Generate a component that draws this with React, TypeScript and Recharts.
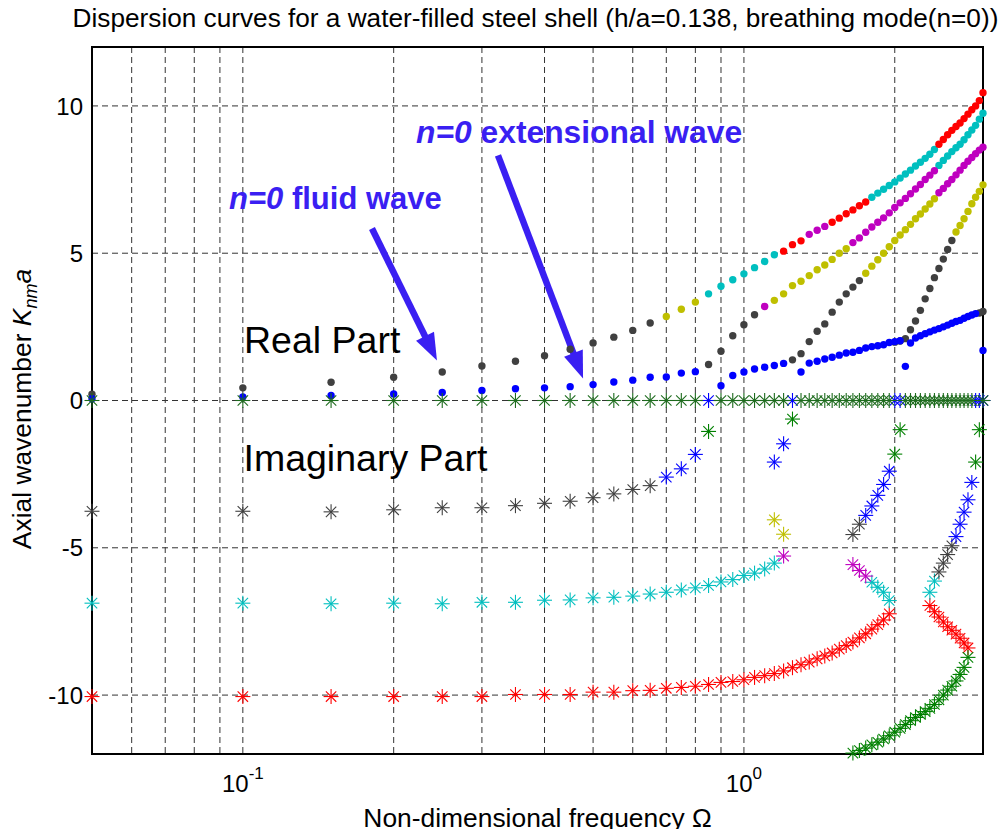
import React from "react";
import {
  CartesianGrid,
  ReferenceArea,
  ReferenceLine,
  Scatter,
  ScatterChart,
  XAxis,
  YAxis,
} from "recharts";

type Pt = [number, number];

// frequency grid (step 0.05)
const freqs = [
  0.05, 0.1, 0.15, 0.2, 0.25, 0.3, 0.35, 0.4, 0.45, 0.5, 0.55, 0.6, 0.65, 0.7, 0.75, 0.8, 0.85, 0.9, 0.95, 1,
  1.05, 1.1, 1.15, 1.2, 1.25, 1.3, 1.35, 1.4, 1.45, 1.5, 1.55, 1.6, 1.65, 1.7, 1.75, 1.8, 1.85, 1.9, 1.95, 2,
  2.05, 2.1, 2.15, 2.2, 2.25, 2.3, 2.35, 2.4, 2.45, 2.5, 2.55, 2.6, 2.65, 2.7, 2.75, 2.8, 2.85, 2.9, 2.95, 3,
];

const xTicks = [0.05, 0.06, 0.07, 0.08, 0.09, 0.1, 0.2, 0.3, 0.4, 0.5, 0.6, 0.7, 0.8, 0.9, 1, 2, 3];
const yTicks = [-10, -5, 0, 5, 10];

// real part (filled dots)
const grayDots: Pt[] = [
  [0.05, 0.21], [0.1, 0.43], [0.15, 0.62], [0.2, 0.79], [0.25, 0.97], [0.3, 1.17], [0.35, 1.33], [0.4, 1.52],
  [0.45, 1.74], [0.5, 1.95], [0.55, 2.15], [0.6, 2.38], [0.65, 2.63],
  [0.85, 1.22], [0.9, 1.67], [0.95, 2.2], [1, 2.57], [1.05, 2.91],
  [1.25, 1.38], [1.3, 1.59], [1.35, 2.0], [1.4, 2.35], [1.45, 2.6], [1.5, 3.0], [1.55, 3.34], [1.6, 3.62],
  [1.65, 3.85], [1.7, 4.07],
  [2, 1.98], [2.05, 2.02], [2.1, 2.1], [2.15, 2.4], [2.2, 2.7], [2.25, 3.06], [2.3, 3.45], [2.35, 3.8],
  [2.4, 4.17], [2.45, 4.48], [2.5, 4.8], [2.55, 5.13], [2.6, 5.43],
  [2.95, 2.97], [3, 3.02],
];
const yellowDots: Pt[] = [
  [0.7, 2.85], [0.75, 3.1], [0.8, 3.34],
  [1.15, 3.4], [1.2, 3.62], [1.25, 3.9], [1.3, 4.05], [1.35, 4.24], [1.4, 4.44], [1.45, 4.6], [1.5, 4.79],
  [1.55, 5.0], [1.6, 5.15],
  [1.75, 4.32], [1.8, 4.56], [1.85, 4.78], [1.9, 5.0], [1.95, 5.22], [2, 5.43], [2.05, 5.62], [2.1, 5.8],
  [2.15, 5.98], [2.2, 6.17], [2.25, 6.33], [2.3, 6.5], [2.35, 6.67], [2.4, 6.85],
  [2.65, 5.72], [2.7, 5.94], [2.75, 6.17], [2.8, 6.42], [2.85, 6.68], [2.9, 6.9], [2.95, 7.1], [3, 7.32],
];
const cyanDots: Pt[] = [
  [0.85, 3.62], [0.9, 3.88], [0.95, 4.1], [1, 4.3], [1.05, 4.51], [1.1, 4.72], [1.15, 4.95],
  [1.8, 6.9], [1.85, 7.04], [1.9, 7.17], [1.95, 7.3], [2, 7.42], [2.05, 7.55], [2.1, 7.69], [2.15, 7.82],
  [2.2, 7.96], [2.25, 8.09], [2.3, 8.22], [2.35, 8.36], [2.4, 8.52],
  [2.45, 7.98], [2.5, 8.15], [2.55, 8.3], [2.6, 8.45], [2.65, 8.58], [2.7, 8.7], [2.75, 8.85], [2.8, 9.02],
  [2.85, 9.18], [2.9, 9.34], [2.95, 9.55], [3, 9.75],
];
const magentaDots: Pt[] = [
  [1.1, 3.19],
  [1.35, 5.64], [1.4, 5.78], [1.45, 5.91],
  [1.65, 5.36], [1.7, 5.52], [1.75, 5.71], [1.8, 5.89], [1.85, 6.05], [1.9, 6.2], [1.95, 6.37], [2, 6.55],
  [2.05, 6.71], [2.1, 6.86], [2.15, 7.02], [2.2, 7.18], [2.25, 7.33], [2.3, 7.5], [2.35, 7.65], [2.4, 7.8],
  [2.45, 7.05], [2.5, 7.2], [2.55, 7.36], [2.6, 7.5], [2.65, 7.66], [2.7, 7.82], [2.75, 7.98], [2.8, 8.12],
  [2.85, 8.25], [2.9, 8.38], [2.95, 8.5], [3, 8.6],
];
const redDots: Pt[] = [
  [1.2, 5.07], [1.25, 5.29], [1.3, 5.42],
  [1.5, 6.05], [1.55, 6.19], [1.6, 6.34], [1.65, 6.47], [1.7, 6.61], [1.75, 6.74],
  [2.45, 8.7], [2.5, 8.86], [2.55, 9.02], [2.6, 9.17], [2.65, 9.3], [2.7, 9.42], [2.75, 9.57], [2.8, 9.72],
  [2.85, 9.87], [2.9, 10.0], [2.95, 10.18], [3, 10.45],
];
const blueDots: Pt[] = [
  [0.05, 0.06], [0.1, 0.12], [0.15, 0.17], [0.2, 0.22], [0.25, 0.27], [0.3, 0.34], [0.35, 0.4], [0.4, 0.43],
  [0.45, 0.47], [0.5, 0.54], [0.55, 0.63], [0.6, 0.69], [0.65, 0.79], [0.7, 0.8], [0.75, 0.93], [0.8, 0.98],
  [0.9, 0.5], [0.95, 0.85], [1, 0.97], [1.05, 1.07], [1.1, 1.13], [1.15, 1.19], [1.2, 1.26],
  [1.3, 0.97], [1.35, 1.27], [1.4, 1.33], [1.45, 1.41], [1.5, 1.47], [1.55, 1.54], [1.6, 1.61], [1.65, 1.64],
  [1.7, 1.7], [1.75, 1.78], [1.8, 1.83], [1.85, 1.86], [1.9, 1.89], [1.95, 1.97], [2, 2.0], [2.05, 2.03],
  [2.1, 1.16], [2.15, 1.95], [2.2, 2.12], [2.25, 2.2], [2.3, 2.27], [2.35, 2.33], [2.4, 2.39], [2.45, 2.44],
  [2.5, 2.5], [2.55, 2.56], [2.6, 2.62], [2.65, 2.68], [2.7, 2.72], [2.75, 2.79], [2.8, 2.85], [2.85, 2.9],
  [2.9, 2.95], [3, 1.7],
];

// imaginary part (asterisks)
const redStars: Pt[] = [
  [0.05, -10.05], [0.1, -10.05], [0.15, -10.05], [0.2, -10.05], [0.25, -10.05], [0.3, -10.05], [0.35, -9.98],
  [0.4, -9.98], [0.45, -9.98], [0.5, -9.9], [0.55, -9.9], [0.6, -9.85], [0.65, -9.84], [0.7, -9.77],
  [0.75, -9.74], [0.8, -9.7], [0.85, -9.64], [0.9, -9.57], [0.95, -9.54], [1, -9.48], [1.05, -9.4],
  [1.1, -9.34], [1.15, -9.27], [1.2, -9.18], [1.25, -9.07], [1.3, -8.97], [1.35, -8.88], [1.4, -8.77],
  [1.45, -8.67], [1.5, -8.57], [1.55, -8.44], [1.6, -8.32], [1.65, -8.2], [1.7, -8.06], [1.75, -7.92],
  [1.8, -7.76], [1.85, -7.61], [1.9, -7.45], [1.95, -7.24],
  [2.35, -6.96], [2.4, -7.17], [2.45, -7.35], [2.5, -7.52], [2.55, -7.68], [2.6, -7.8], [2.65, -7.93],
  [2.7, -8.07], [2.75, -8.23], [2.8, -8.4],
];
const cyanStars: Pt[] = [
  [0.05, -6.88], [0.1, -6.88], [0.15, -6.9], [0.2, -6.88], [0.25, -6.9], [0.3, -6.85], [0.35, -6.85],
  [0.4, -6.78], [0.45, -6.77], [0.5, -6.7], [0.55, -6.68], [0.6, -6.64], [0.65, -6.57], [0.7, -6.51],
  [0.75, -6.43], [0.8, -6.36], [0.85, -6.28], [0.9, -6.16], [0.95, -6.08], [1, -5.94], [1.05, -5.86],
  [1.1, -5.72], [1.15, -5.52],
  [1.8, -6.17], [1.85, -6.34], [1.9, -6.51], [1.95, -6.79],
  [2.35, -6.51], [2.4, -6.13],
];
const grayStars: Pt[] = [
  [0.05, -3.76], [0.1, -3.76], [0.15, -3.78], [0.2, -3.71], [0.25, -3.64], [0.3, -3.64], [0.35, -3.57],
  [0.4, -3.49], [0.45, -3.42], [0.5, -3.3], [0.55, -3.17], [0.6, -3.02], [0.65, -2.89],
  [1.65, -4.55], [1.7, -4.2],
  [2.45, -5.82], [2.5, -5.52], [2.55, -5.23], [2.6, -4.93],
];
const yellowStars: Pt[] = [[1.15, -4.05], [1.2, -4.54]];
const magentaStars: Pt[] = [[1.2, -5.28], [1.65, -5.57], [1.7, -5.77], [1.75, -5.96]];
const blueStars: Pt[] = [
  [0.7, -2.6], [0.75, -2.32], [0.8, -1.83],
  [1.15, -2.09], [1.2, -1.47],
  [1.75, -3.9], [1.8, -3.58], [1.85, -3.22], [1.9, -2.85], [1.95, -2.4],
  [2.65, -4.62], [2.7, -4.2], [2.75, -3.79], [2.8, -3.37], [2.85, -2.78],
];
const greenStars: Pt[] = [
  [0.85, -1.05], [1.25, -0.63], [2, -1.82], [2.05, -0.99], [2.9, -2.09], [2.95, -0.99],
  [1.65, -11.97], [1.7, -11.88], [1.75, -11.8], [1.8, -11.69], [1.85, -11.6], [1.9, -11.49], [1.95, -11.38],
  [2, -11.26], [2.05, -11.13], [2.1, -11.0], [2.15, -10.87], [2.2, -10.76], [2.25, -10.66], [2.3, -10.56],
  [2.35, -10.45], [2.4, -10.32], [2.45, -10.16], [2.5, -10.0], [2.55, -9.83], [2.6, -9.7], [2.65, -9.52],
  [2.7, -9.3], [2.75, -9.06], [2.8, -8.72],
];
// frequencies where the blue root sits on the zero line uncovered
const blueZero = [0.85, 1.25, 2, 2.05, 2.9, 2.95, 3];
const greenOff = [0.85, 1.25, 2, 2.05, 2.9, 2.95];

const FONT = "'Liberation Sans', Arial, Helvetica, sans-serif";
const NOTE = "#3a1ff2";
const C = {
  red: "#ff0000",
  cyan: "#00bfbf",
  magenta: "#bf00bf",
  yellow: "#bfbf00",
  gray: "#404040",
  blue: "#0000ff",
  green: "#008000",
};

const toXY = (pts: Pt[]) => pts.map(([x, y]) => ({ x, y }));
const zeroXY = (xs: number[]) => xs.map((x) => ({ x, y: 0 }));

const dotShape = (color: string) => (p: any) =>
  p.cx == null ? <g /> : <circle cx={p.cx} cy={p.cy} r={3.7} fill={color} />;

const starShape = (color: string) => (p: any) => {
  const { cx, cy } = p;
  if (cx == null || cy == null) return <g />;
  const a = 7.5;
  const d = 5.2;
  return (
    <g stroke={color} strokeWidth={1.1} fill="none">
      <line x1={cx - a} y1={cy} x2={cx + a} y2={cy} />
      <line x1={cx} y1={cy - a} x2={cx} y2={cy + a} />
      <line x1={cx - d} y1={cy - d} x2={cx + d} y2={cy + d} />
      <line x1={cx - d} y1={cy + d} x2={cx + d} y2={cy - d} />
    </g>
  );
};

const XTick = ({ x, payload }: any) => {
  const exp = payload.value === 0.1 ? "-1" : payload.value === 1 ? "0" : null;
  if (exp === null) return <g />;
  return (
    <text x={x} y={784} textAnchor="middle" fontFamily={FONT} fontSize={24} fill="#000">
      10
      <tspan dy={-13} fontSize={17}>
        {exp}
      </tspan>
    </text>
  );
};

const YTick = ({ y, payload }: any) => (
  <text x={75} y={y} dy={8.6} textAnchor="end" fontFamily={FONT} fontSize={24} fill="#000">
    {payload.value}
  </text>
);

const Arrow = (p: any) => {
  const { x1, y1, x2, y2 } = p;
  const len = Math.hypot(x2 - x1, y2 - y1);
  const ux = (x2 - x1) / len;
  const uy = (y2 - y1) / len;
  const head = 27;
  const hw = 10;
  const bx = x2 - ux * head;
  const by = y2 - uy * head;
  return (
    <g>
      <line x1={x1} y1={y1} x2={bx + ux * 2} y2={by + uy * 2} stroke={NOTE} strokeWidth={6.5} />
      <polygon
        points={`${x2},${y2} ${bx - uy * hw},${by + ux * hw} ${bx + uy * hw},${by - ux * hw}`}
        fill={NOTE}
      />
    </g>
  );
};

const dotSeries: [Pt[], string][] = [
  [grayDots, C.gray],
  [blueDots, C.blue],
  [yellowDots, C.yellow],
  [cyanDots, C.cyan],
  [magentaDots, C.magenta],
  [redDots, C.red],
];
const starSeries: [Pt[], string][] = [
  [redStars, C.red],
  [cyanStars, C.cyan],
  [grayStars, C.gray],
  [yellowStars, C.yellow],
  [magentaStars, C.magenta],
  [blueStars, C.blue],
  [greenStars, C.green],
];

export default function App() {
  const greenZero = freqs.filter((f) => !greenOff.includes(f));
  return (
    <div style={{ position: "relative", width: 992, height: 821, fontFamily: FONT }}>
      <ScatterChart width={992} height={821} margin={{ top: 39, right: 17, bottom: 45, left: 24 }}>
        <CartesianGrid strokeDasharray="6 4" stroke="#333" />
        <XAxis
          dataKey="x"
          type="number"
          scale="log"
          domain={[0.05, 3]}
          ticks={xTicks}
          interval={0}
          tick={XTick}
          tickLine={false}
          axisLine={{ stroke: "#000", strokeWidth: 2 }}
          height={30}
        />
        <YAxis
          dataKey="y"
          type="number"
          domain={[-12, 12]}
          ticks={yTicks}
          interval={0}
          tick={YTick}
          tickLine={false}
          axisLine={{ stroke: "#000", strokeWidth: 2 }}
          width={60}
        />
        <ReferenceArea x1={0.05} x2={3} y1={-12} y2={12} fill="none" fillOpacity={0} stroke="#000" strokeWidth={2} />
        {dotSeries.map(([pts, col], i) => (
          <Scatter key={`d${i}`} data={toXY(pts)} shape={dotShape(col)} isAnimationActive={false} />
        ))}
        {starSeries.map(([pts, col], i) => (
          <Scatter key={`s${i}`} data={toXY(pts)} shape={starShape(col)} isAnimationActive={false} />
        ))}
        <Scatter data={zeroXY(blueZero)} shape={starShape(C.blue)} isAnimationActive={false} />
        <Scatter data={zeroXY(greenZero)} shape={starShape("#1d6b1d")} isAnimationActive={false} />
        <ReferenceLine segment={[{ x: 0.181, y: 5.84 }, { x: 0.244, y: 1.36 }]} shape={Arrow} />
        <ReferenceLine segment={[{ x: 0.323, y: 8.32 }, { x: 0.4775, y: 0.75 }]} shape={Arrow} />
      </ScatterChart>
      <svg
        width={992}
        height={821}
        style={{ position: "absolute", left: 0, top: 0, overflow: "visible", pointerEvents: "none" }}
      >
        <text x={527.5} y={19} textAnchor="middle" fontFamily={FONT} fontSize={26.2} fill="#000">
          Dispersion curves for a water-filled steel shell (h/a=0.138, breathing mode(n=0))
        </text>
        <text x={529.5} y={819} textAnchor="middle" fontFamily={FONT} fontSize={26.4} fill="#000">
          Non-dimensional frequency Ω
        </text>
        <text transform="translate(23,401) rotate(-90)" textAnchor="middle" fontFamily={FONT} fontSize={26.4} fill="#000">
          Axial wavenumber <tspan fontStyle="italic">K</tspan>
          <tspan fontStyle="italic" fontSize={18} dy={6}>
            nm
          </tspan>
          <tspan fontStyle="italic" dy={-6}>
            a
          </tspan>
        </text>
        <text x={236} y={345} fontFamily={FONT} fontSize={37.5} fill="#000">
          Real Part
        </text>
        <text x={235.5} y={462.7} fontFamily={FONT} fontSize={37.5} fill="#000">
          Imaginary Part
        </text>
        <text x={221} y={201} fontFamily={FONT} fontSize={31} fontWeight="bold" fill={NOTE}>
          <tspan fontStyle="italic">n=0</tspan> fluid wave
        </text>
        <text x={408} y={135} fontFamily={FONT} fontSize={31.8} fontWeight="bold" fill={NOTE}>
          <tspan fontStyle="italic">n=0</tspan> extensional wave
        </text>
      </svg>
    </div>
  );
}
